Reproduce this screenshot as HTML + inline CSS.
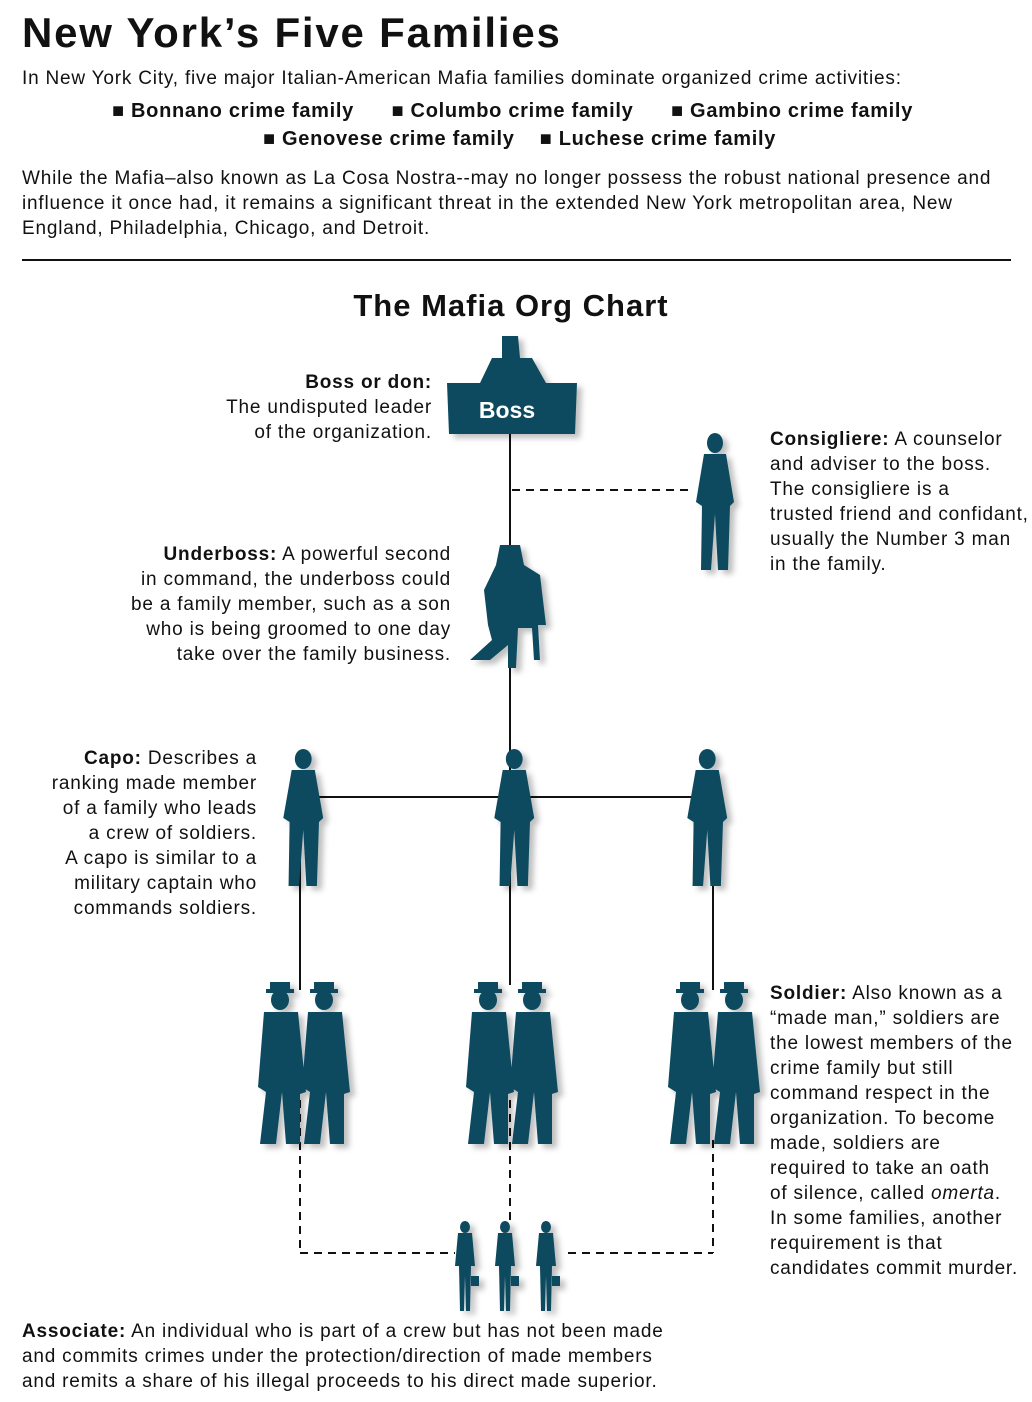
<!DOCTYPE html>
<html><head><meta charset="utf-8"><style>
body{margin:0;background:#fff;width:1032px;height:1402px;position:relative;overflow:hidden;font-family:"Liberation Sans",sans-serif;color:#111}
.t{position:absolute;font-size:19px;line-height:25px;white-space:nowrap;letter-spacing:0.8px}
.r{text-align:right}
b{font-weight:bold}
</style></head><body>
<div class="t" style="left:22px;top:8px;font-size:42px;line-height:50px;font-weight:bold;letter-spacing:1.8px">New York’s Five Families</div>
<div class="t" style="left:22px;top:66px">In New York City, five major Italian-American Mafia families dominate organized crime activities:</div>
<div class="t" style="left:112px;top:99px;font-weight:bold;font-size:20px;letter-spacing:0.7px">■ Bonnano crime family&nbsp;&nbsp;&nbsp;&nbsp;&nbsp;&nbsp;■ Columbo crime family&nbsp;&nbsp;&nbsp;&nbsp;&nbsp;&nbsp;■ Gambino crime family</div>
<div class="t" style="left:263px;top:127px;font-weight:bold;font-size:20px;letter-spacing:0.7px">■ Genovese crime family&nbsp;&nbsp;&nbsp;&nbsp;■ Luchese crime family</div>
<div class="t" style="left:22px;top:166px">While the Mafia–also known as La Cosa Nostra--may no longer possess the robust national presence and<br>influence it once had, it remains a significant threat in the extended New York metropolitan area, New<br>England, Philadelphia, Chicago, and Detroit.</div>
<div style="position:absolute;left:22px;top:259px;width:989px;height:2px;background:#111"></div>
<div class="t" style="left:0;width:1022px;text-align:center;top:286px;font-size:31px;line-height:40px;font-weight:bold;letter-spacing:1px">The Mafia Org Chart</div>

<svg style="position:absolute;left:0;top:0" width="1032" height="1402">
<defs>
<filter id="sh"><feDropShadow dx="5" dy="4" stdDeviation="3" flood-color="#000" flood-opacity="0.25"/></filter>
<g id="p"><ellipse cx="25" cy="11" rx="8" ry="10"/><path d="M14,22 L36,22 L44,70 L40,74 L38,138 L28,138 L25,82 L21,138 L11,138 L12,74 L6,70 Z"/></g>
<g id="s"><rect x="12" y="0" width="20" height="8"/><rect x="8" y="7" width="28" height="4"/><ellipse cx="22" cy="18" rx="9" ry="10"/><path d="M6,30 L40,30 L48,110 L42,112 L42,162 L28,162 L24,110 L18,162 L2,162 L8,110 L0,105 Z"/></g>
<g id="a"><ellipse cx="10" cy="6" rx="5" ry="6"/><path d="M3,12 L17,12 L20,45 L16,45 L15,90 L11,90 L10,55 L9,90 L5,90 L4,45 L0,45 Z"/><rect x="16" y="55" width="8" height="10"/></g>
</defs>
<g stroke="#111" stroke-width="2" fill="none">
<line x1="510" y1="430" x2="510" y2="985"/>
<line x1="300" y1="797" x2="713" y2="797"/>
<line x1="300" y1="797" x2="300" y2="990"/>
<line x1="713" y1="797" x2="713" y2="990"/>
<g stroke-dasharray="8,6">
<line x1="512" y1="490" x2="690" y2="490"/>
<line x1="300" y1="1100" x2="300" y2="1253"/>
<line x1="510" y1="1100" x2="510" y2="1222"/>
<line x1="713" y1="1140" x2="713" y2="1253"/>
<line x1="300" y1="1253" x2="455" y2="1253"/>
<line x1="568" y1="1253" x2="713" y2="1253"/>
</g></g>
<g fill="#0d4a5e" filter="url(#sh)">
<path d="M447,383 L577,383 L575,434 L449,434 Z M480,383 L492,358 L502,358 L502,336 L518,336 L520,358 L532,358 L546,383 Z"/>
<use href="#p" transform="translate(690,432) scale(1,1)"/>
<path d="M500,545 L520,545 L524,565 L540,575 L546,625 L538,625 L540,660 L534,660 L532,628 L518,628 L516,668 L508,668 L508,645 L490,660 L470,660 L492,640 L488,625 L484,590 L496,565 Z"/>
<use href="#p" transform="translate(277,748) scale(1.05,1)"/>
<use href="#p" transform="translate(488,748) scale(1.05,1)"/>
<use href="#p" transform="translate(681,748) scale(1.05,1)"/>
<use href="#s" transform="translate(258,982)"/><use href="#s" transform="translate(302,982)"/>
<use href="#s" transform="translate(466,982)"/><use href="#s" transform="translate(510,982)"/>
<use href="#s" transform="translate(668,982)"/><use href="#s" transform="translate(712,982)"/>
<use href="#a" transform="translate(455,1221)"/><use href="#a" transform="translate(495,1221)"/><use href="#a" transform="translate(536,1221)"/>
</g>
<text x="507" y="418" fill="#fff" font-family="Liberation Sans" font-weight="bold" font-size="23" text-anchor="middle">Boss</text>
</svg>

<div class="t r" style="right:600px;top:370px"><b>Boss or don:</b><br>The undisputed leader<br>of the organization.</div>
<div class="t" style="left:770px;top:427px"><b>Consigliere:</b> A counselor<br>and adviser to the boss.<br>The consigliere is a<br>trusted friend and confidant,<br>usually the Number 3 man<br>in the family.</div>
<div class="t r" style="right:581px;top:542px"><b>Underboss:</b> A powerful second<br>in command, the underboss could<br>be a family member, such as a son<br>who is being groomed to one day<br>take over the family business.</div>
<div class="t r" style="right:775px;top:746px"><b>Capo:</b> Describes a<br>ranking made member<br>of a family who leads<br>a crew of soldiers.<br>A capo is similar to a<br>military captain who<br>commands soldiers.</div>
<div class="t" style="left:770px;top:981px"><b>Soldier:</b> Also known as a<br>“made man,” soldiers are<br>the lowest members of the<br>crime family but still<br>command respect in the<br>organization. To become<br>made, soldiers are<br>required to take an oath<br>of silence, called <i>omerta</i>.<br>In some families, another<br>requirement is that<br>candidates commit murder.</div>
<div class="t" style="left:22px;top:1319px"><b>Associate:</b> An individual who is part of a crew but has not been made<br>and commits crimes under the protection/direction of made members<br>and remits a share of his illegal proceeds to his direct made superior.</div>
</body></html>
